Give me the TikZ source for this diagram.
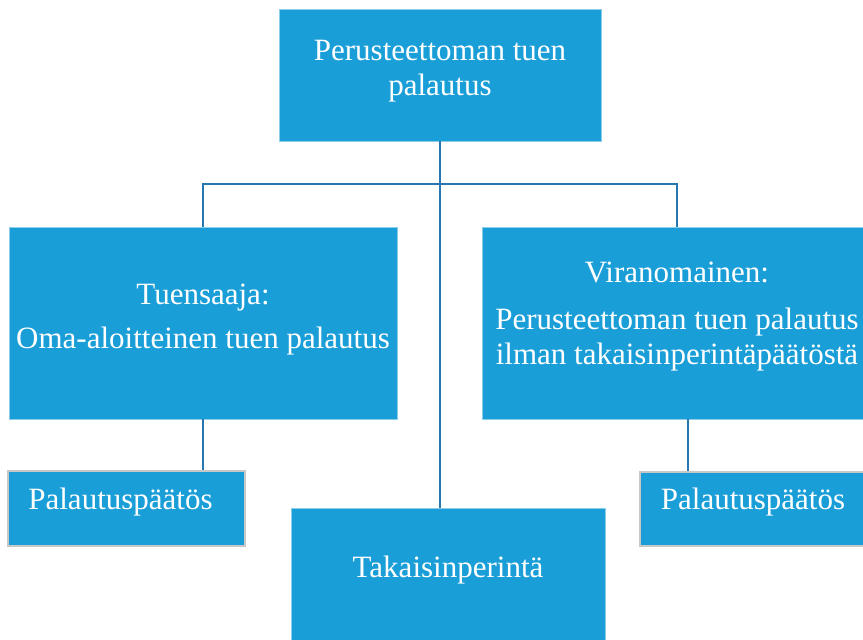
\documentclass[tikz,border=0pt]{standalone}
\usepackage{fontspec}
\setmainfont{Liberation Serif}
\usetikzlibrary{positioning,calc}
\definecolor{boxblue}{RGB}{26,158,216}
\definecolor{edgeblue}{RGB}{140,205,235}
\definecolor{linkblue}{RGB}{38,118,176}
\definecolor{greyedge}{RGB}{200,200,200}
\tikzset{
  box/.style={draw=edgeblue,line width=0.8pt,fill=boxblue,text=white,align=center,
    inner sep=0pt,font=\fontsize{31}{35}\selectfont},
  smallbox/.style={box,draw=greyedge,line width=2.5pt},
  link/.style={draw=linkblue,line width=2.8pt}
}
\begin{document}
\begin{tikzpicture}[x=1pt,y=-1pt]
  \useasboundingbox (0,0) rectangle (863,640);
  \clip (0,0) rectangle (863,640);
  % boxes
  \node[box,minimum width=322pt,minimum height=132pt,text depth=14pt] (top) at (440,75)
    {Perusteettoman tuen\\palautus};
  \node[box,minimum width=388pt,minimum height=192pt,text depth=14pt] (lbox) at (203,323)
    {Tuensaaja:\\[9pt]Oma-aloitteinen tuen palautus};
  \node[box,minimum width=390pt,minimum height=192pt,text depth=20pt] (rbox) at (677,323)
    {Viranomainen:\\[12pt]Perusteettoman tuen palautus\\ilman takaisinperintäpäätöstä};
  \node[smallbox,minimum width=237pt,minimum height=75pt,text depth=20pt] (lpaat) at (126.5,508.5)
    {Palautuspäätös\hspace*{12pt}};
  \node[smallbox,minimum width=226pt,minimum height=74pt,text depth=20pt] (rpaat) at (753,509)
    {Palautuspäätös};
  \node[box,minimum width=314pt,minimum height=132pt,text depth=14pt] (takaisin) at (448,574)
    {Takaisinperintä};
  % connectors
  \coordinate (hub) at (440,184);
  \draw[link] (top.south) -- (top.south |- takaisin.north);
  \draw[link] (lbox.north) |- (hub) -| (rbox.north);
  \draw[link] (lbox.south) -- (lbox.south |- lpaat.north);
  \draw[link] ([xshift=11pt]rbox.south) -- ([xshift=11pt]rbox.south |- rpaat.north);
\end{tikzpicture}
\end{document}
